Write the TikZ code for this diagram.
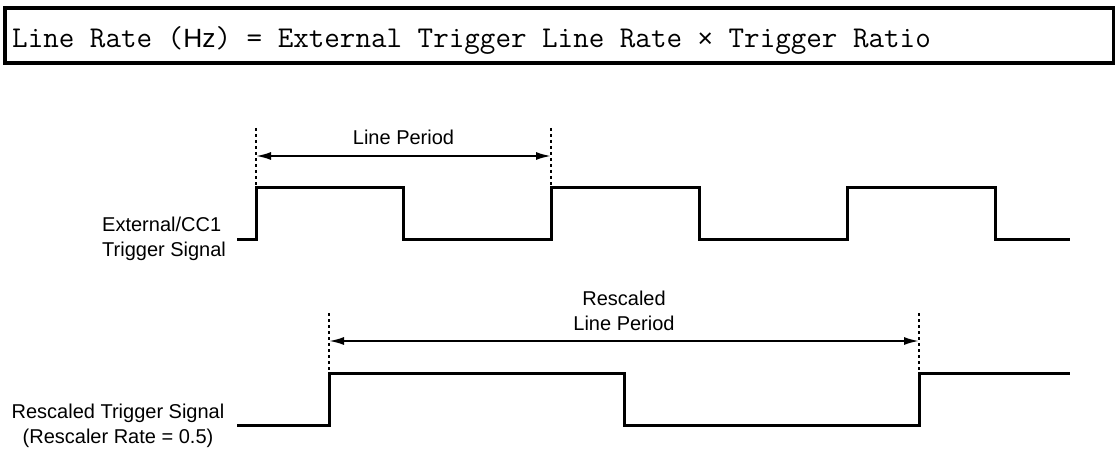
\documentclass[tikz,border=0pt]{standalone}
\usepackage{fontspec}
\setmainfont{Liberation Sans}
\setsansfont{Liberation Sans}
\usetikzlibrary{arrows.meta,positioning}
\tikzset{
frame/.style={draw, line width=3.2pt},
formula/.style={inner sep=0pt, font=\fontsize{30.2}{34}\ttfamily},
label/.style={inner sep=0pt, font=\fontsize{20}{24.5}\selectfont},
signal/.style={draw, line width=3pt, line join=miter},
marker/.style={draw, line width=2pt, dash pattern=on 3pt off 3pt},
span/.style={draw, line width=2pt, {Latex[length=15pt,width=8pt]}-{Latex[length=15pt,width=8pt]}}
}

\begin{document}
\begin{tikzpicture}[x=1pt, y=-1pt]
    \useasboundingbox (0,0) rectangle (1115,449);
    % Formula
    \draw [frame] (5,8) rectangle (1114,63);
    \node [formula, anchor=base west] (rate) at (12,48)
        {Line Rate ({\fontsize{26.4}{30}\sffamily Hz}) = External Trigger Line Rate {\fontsize{26.4}{30}\sffamily ×}\ Trigger Ratio};
    % External trigger
    \node [label, align=left, anchor=base west] (extlabel) at (102,256) {External/CC1\\Trigger Signal};
    \path [signal] (237,239) -- (256,239) -- (256,187) -- (403,187) -- (403,239)
        -- (551,239) -- (551,187) -- (699,187) -- (699,239) -- (847,239)
        -- (847,187) -- (995,187) -- (995,239) -- (1070,239);
    \coordinate (p1top) at (256,128);
    \coordinate (p1bot) at (256,187);
    \coordinate (p2top) at (551,128);
    \coordinate (p2bot) at (551,187);
    \path [marker] (p1top) -- (p1bot);
    \path [marker] (p2top) -- (p2bot);
    \coordinate (p1mid) at (256,156);
    \coordinate (p2mid) at (551,156);
    \path [span] (p1mid) -- (p2mid);
    \node [label, anchor=base] (period) at (403.5,145) {Line Period};
    % Rescaled trigger
    \node [label, align=center, anchor=base] (reslabel) at (118,443) {Rescaled Trigger Signal\\(Rescaler Rate = 0.5)};
    \path [signal] (237,425) -- (329,425) -- (329,373) -- (624,373) -- (624,425)
        -- (919,425) -- (919,373) -- (1070,373);
    \coordinate (r1top) at (329,313);
    \coordinate (r1bot) at (329,373);
    \coordinate (r2top) at (919,313);
    \coordinate (r2bot) at (919,373);
    \path [marker] (r1top) -- (r1bot);
    \path [marker] (r2top) -- (r2bot);
    \coordinate (r1mid) at (329,341);
    \coordinate (r2mid) at (919,341);
    \path [span] (r1mid) -- (r2mid);
    \node [label, align=center, anchor=base] (resperiod) at (624,330) {Rescaled\\Line Period};
\end{tikzpicture}
\end{document}
